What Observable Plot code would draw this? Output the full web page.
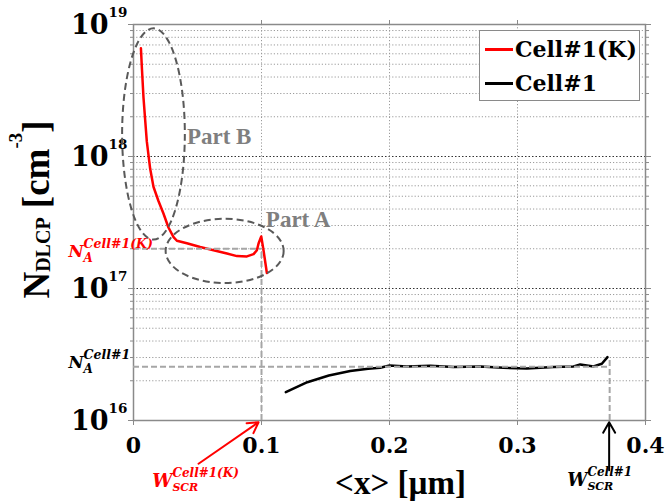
<!DOCTYPE html>
<html>
<head>
<meta charset="utf-8">
<script src="https://cdn.jsdelivr.net/npm/d3@7"></script>
<script src="https://cdn.jsdelivr.net/npm/@observablehq/plot@0.6"></script>
<style>
  body { margin: 0; background: #fff; }
  #wrap { position: relative; width: 665px; height: 504px; background: #fff; }
  #legend { position: absolute; left: 479px; top: 30px; width: 161px; height: 71px;
            border: 1px solid #8a8a8a; background: #fff; box-sizing: border-box;
            font-family: "DejaVu Serif"; font-weight: bold; font-size: 22px; }
  #legend .row { position: absolute; left: 0; height: 30px; line-height: 30px; white-space: nowrap; }
  #legend .sw { position: absolute; left: 5px; top: 14px; width: 28px; height: 3px; }
  #legend .lab { position: absolute; left: 35px; top: 0; }
</style>
</head>
<body>
<div id="wrap"></div>
<script>
// ---- data ----
const seriesNames  = ["Cell#1(K)", "Cell#1"];
const seriesColors = ["#ff0000", "#000000"];

const xCellK = [0.0058, 0.0066, 0.0078, 0.0091, 0.0104, 0.0130, 0.0156, 0.0195, 0.0234, 0.0273,
                0.0313, 0.0339, 0.0417, 0.0521, 0.0625, 0.0730, 0.0808, 0.0886, 0.0938, 0.0964,
                0.0977, 0.0998, 0.1016, 0.1042];
const yCellK = [6.6e18, 4.6e18, 2.8e18, 1.9e18, 1.3e18, 8.1e17, 5.9e17, 4.6e17, 3.7e17, 2.9e17,
                2.45e17, 2.3e17, 2.2e17, 2.06e17, 1.95e17, 1.84e17, 1.76e17, 1.75e17, 1.82e17, 1.95e17,
                2.19e17, 2.48e17, 1.94e17, 1.31e17];

const xCell1 = [0.119, 0.1358, 0.1526, 0.1693, 0.1833, 0.1927, 0.2000, 0.2136, 0.2318, 0.2500,
                0.2709, 0.2890, 0.3073, 0.3281, 0.3438, 0.3490, 0.3594, 0.3659, 0.3703];
const yCell1 = [1.64e16, 1.95e16, 2.19e16, 2.37e16, 2.47e16, 2.51e16, 2.61e16, 2.57e16, 2.60e16, 2.54e16,
                2.57e16, 2.51e16, 2.48e16, 2.54e16, 2.57e16, 2.66e16, 2.57e16, 2.69e16, 3.02e16];

const xTicks = [0, 0.1, 0.2, 0.3, 0.4];
const xTickLabels = ["0", "0.1", "0.2", "0.3", "0.4"];
const xGrid = [0.1, 0.2, 0.3];
const yDecades = [1e16, 1e17, 1e18, 1e19];
const yTickBase = "10";
const yTickExp = ["16", "17", "18", "19"];
const yMajorGrid = [1e17, 1e18];

// annotation values
const NA_K = 2.0e17, WSCR_K = 0.1, NA_1 = 2.55e16, WSCR_1 = 0.372, peak_1 = 3.0e16;
const refH = [{y: NA_K, x1: 0, x2: WSCR_K}, {y: NA_1, x1: 0, x2: WSCR_1}];
const refV = [{x: WSCR_K, y1: 1e16, y2: NA_K}, {x: WSCR_1, y1: 1e16, y2: peak_1}];
const arrows = [
  {x1: 0.0508, y1: 4.7e15, x2: 0.0977, y2: 9.7e15, c: "#ff0000"},
  {x1: 0.3716, y1: 4.2e15, x2: 0.3716, y2: 9.7e15, c: "#000000"}
];
const partLabels = [{x: 0.0417, y: 1.25e18, t: "Part B"}, {x: 0.1034, y: 2.92e17, t: "Part A"}];
// ellipses: centre (x, y), half-width in µm, half-height in decades
const ellipses = [
  {cx: 0.0160, cy: 1.47e18, rx: 0.0245, ry: 0.80},
  {cx: 0.0716, cy: 1.91e17, rx: 0.0461, ry: 0.243}
];
const naLabels = [
  {y: NA_K, c: "#ff0000", sup: "Cell#1(K)", dy: 3.3},
  {y: NA_1, c: "#000000", sup: "Cell#1", dy: -3.7}
];
const wLabels = [
  {x: 0.0146, y: 3.16e15, c: "#ff0000", sup: "Cell#1(K)"},
  {x: 0.3388, y: 3.2e15,  c: "#000000", sup: "Cell#1"}
];
const xLabel = "<x> [µm]";
const yLabelParts = [{t: "N"}, {t: "DLCP", shift: 1, size: 20}, {t: " [cm"}, {t: "-3", shift: -27, size: 19}, {t: "]"}];

const cellK = xCellK.map((x, i) => ({x, y: yCellK[i]}));
const cell1 = xCell1.map((x, i) => ({x, y: yCell1[i]}));
const minorY = d3.scaleLog().domain([1e16, 1e19]).ticks().filter(v => !yDecades.includes(v));

const GRAY = "#8a8a8a";
const plot = Plot.plot({
  width: 665, height: 504,
  marginLeft: 133, marginRight: 20, marginTop: 24, marginBottom: 84,
  style: {fontFamily: "DejaVu Serif", background: "white", overflow: "visible"},
  x: {domain: [0, 0.4]},
  y: {type: "log", domain: [1e16, 1e19]},
  marks: [
    Plot.ruleY(minorY, {stroke: "#9a9a9a", strokeWidth: 1, strokeDasharray: "1.2,2"}),
    Plot.ruleY(yMajorGrid, {stroke: "#333", strokeWidth: 1, strokeDasharray: "1.5,2"}),
    Plot.ruleX(xGrid, {stroke: "#9a9a9a", strokeWidth: 1, strokeDasharray: "1.2,2"}),
    Plot.frame({stroke: GRAY, strokeWidth: 1.5}),
    Plot.axisX({anchor: "bottom", ticks: xTicks, tickSize: 5, tickPadding: 12,
      tickFormat: d => xTickLabels[xTicks.indexOf(d)], stroke: GRAY, fill: "black",
      fontSize: 22, fontWeight: "bold", label: null}),
    Plot.axisX({anchor: "top", ticks: xGrid, tickSize: 5, tickFormat: () => "", stroke: GRAY, label: null}),
    Plot.axisY({anchor: "left", ticks: yDecades, tickSize: 5, tickFormat: () => "", stroke: GRAY, label: null}),
    Plot.axisY({anchor: "left", ticks: minorY, tickSize: 3, tickFormat: () => "", stroke: GRAY, label: null}),
    Plot.axisY({anchor: "right", ticks: yDecades, tickSize: 5, tickFormat: () => "", stroke: GRAY, label: null}),
    Plot.axisY({anchor: "right", ticks: minorY, tickSize: 3, tickFormat: () => "", stroke: GRAY, label: null}),
    // y tick labels 10^n
    Plot.text(yDecades, {y: d => d, frameAnchor: "left", dx: -25, dy: 1, text: () => yTickBase,
      textAnchor: "end", lineAnchor: "middle", fontSize: 27, fontWeight: "bold"}),
    Plot.text(yDecades, {y: d => d, frameAnchor: "left", dx: -25, dy: -11.5, text: (d, i) => yTickExp[i],
      textAnchor: "start", lineAnchor: "middle", fontSize: 13.5, fontWeight: "bold"}),
    // curves
    Plot.line(cellK, {x: "x", y: "y", stroke: seriesColors[0], strokeWidth: 2.5}),
    Plot.line(cell1, {x: "x", y: "y", stroke: seriesColors[1], strokeWidth: 2.5}),
    // dashed reference lines
    Plot.ruleY(refH, {y: "y", x1: "x1", x2: "x2", stroke: "#a6a6a6", strokeWidth: 2, strokeDasharray: "6,3"}),
    Plot.ruleX(refV, {x: "x", y1: "y1", y2: "y2", stroke: "#a6a6a6", strokeWidth: 2, strokeDasharray: "6,3"}),
    // arrows
    Plot.arrow(arrows, {x1: "x1", y1: "y1", x2: "x2", y2: "y2", stroke: "c", strokeWidth: 2, headLength: 9}),
    // part labels
    Plot.text(partLabels, {x: "x", y: "y", text: "t", textAnchor: "start", lineAnchor: "bottom",
      fill: "#7f7f7f", fontFamily: "Liberation Serif", fontWeight: "bold", fontSize: 23}),
    // N_A labels (placeholder text, rebuilt with sub/superscripts below)
    Plot.text(naLabels, {y: "y", frameAnchor: "left", dx: -65, text: (d, i) => "NA\u00a7" + i,
      textAnchor: "start", lineAnchor: "middle", fill: "c", fontSize: 16.5, fontWeight: "bold",
      fontStyle: "italic"}),
    // W_SCR labels
    Plot.text(wLabels, {x: "x", y: "y", text: (d, i) => "W\u00a7" + i, fill: "c", textAnchor: "start", lineAnchor: "bottom",
      fontSize: 18, fontWeight: "bold", fontStyle: "italic"}),
    // axis titles
    Plot.text([xLabel], {frameAnchor: "bottom", dx: 11, dy: 73, text: d => d, lineAnchor: "bottom",
      fontFamily: "Liberation Serif", fontWeight: "bold", fontSize: 33}),
    Plot.text(["YL\u00a7"], {frameAnchor: "left", dx: -85, dy: -13, rotate: -90, text: d => d,
      lineAnchor: "bottom", textAnchor: "middle", fontFamily: "Liberation Serif", fontWeight: "bold",
      fontSize: 37})
  ]
});

const wrap = document.getElementById("wrap");
wrap.appendChild(plot);

// rich text (sub/superscripts) on Plot-rendered text elements, found by placeholder
const SVGNS = "http://www.w3.org/2000/svg";
function richText(prefix, partsFor) {
  Array.from(plot.querySelectorAll("text"))
    .filter(t => t.textContent.startsWith(prefix))
    .forEach(t => {
      const idx = +t.textContent.slice(prefix.length) || 0;
      const parts = partsFor(idx);
      while (t.firstChild) t.removeChild(t.firstChild);
      let cur = 0, prev = null;
      for (const p of parts) {
        const ts = document.createElementNS(SVGNS, "tspan");
        const target = p.shift || 0;
        if (target !== cur) ts.setAttribute("dy", target - cur);
        cur = target;
        if (p.size) ts.setAttribute("font-size", p.size);
        ts.textContent = p.t;
        t.appendChild(ts);
        if (p.stack && prev) ts.setAttribute("dx", -prev.getComputedTextLength());
        prev = ts;
      }
    });
}
richText("YL\u00a7", () => yLabelParts);
richText("NA\u00a7", i => [{t: "N", shift: naLabels[i].dy}, {t: "A", shift: naLabels[i].dy + 5, size: 12},
  {t: naLabels[i].sup, shift: naLabels[i].dy - 9.5, size: 12.5, stack: true}]);
richText("W\u00a7", i => [{t: "W"}, {t: "SCR", shift: 4.5, size: 11}, {t: wLabels[i].sup, shift: -9.5, size: 12, stack: true}]);

// dashed ellipses positioned through the plot's scales
const sx = plot.scale("x"), sy = plot.scale("y");
const fx = d3.scaleLinear(sx.domain, sx.range);
const fy = d3.scaleLog(sy.domain, sy.range);
const svg = d3.select(plot);
for (const e of ellipses) {
  const cx = fx(e.cx), cy = fy(e.cy);
  svg.append("ellipse")
    .attr("cx", cx).attr("cy", cy)
    .attr("rx", Math.abs(fx(e.cx + e.rx) - cx))
    .attr("ry", Math.abs(fy(e.cy * Math.pow(10, e.ry)) - cy))
    .attr("fill", "none").attr("stroke", "#595959").attr("stroke-width", 2)
    .attr("stroke-dasharray", "7,4");
}

// legend
const legend = document.createElement("div");
legend.id = "legend";
seriesNames.forEach((name, i) => {
  const row = document.createElement("div");
  row.className = "row";
  row.style.top = (3 + i * 34) + "px";
  row.style.width = "100%";
  const sw = document.createElement("div");
  sw.className = "sw";
  sw.style.background = seriesColors[i];
  const lab = document.createElement("span");
  lab.className = "lab";
  lab.textContent = name;
  row.appendChild(sw); row.appendChild(lab);
  legend.appendChild(row);
});
wrap.appendChild(legend);
</script>
</body>
</html>
